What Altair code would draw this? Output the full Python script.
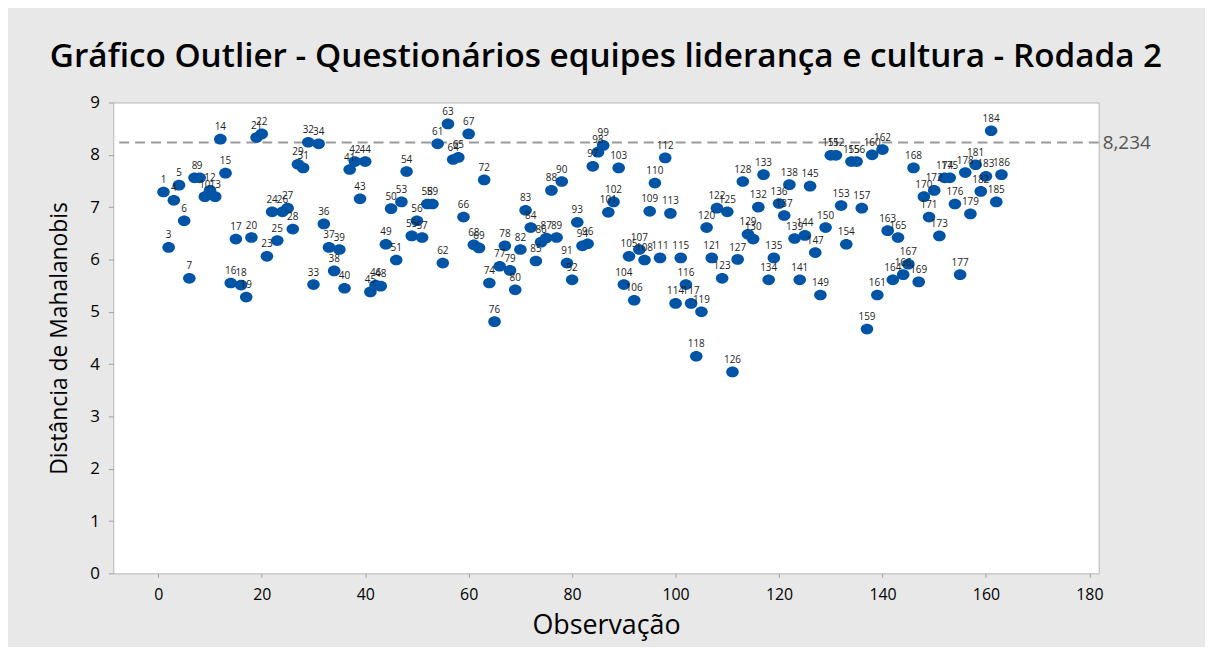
import altair as alt
import pandas as pd

# Respondent labels (IDs) shown next to each point, in observation order
labels = [1, 3, 4, 5, 6, 7, 8, 9, 10, 12, 13, 14, 15, 16, 17, 18, 19, 20, 21, 22,
          23, 24, 25, 26, 27, 28, 29, 31, 32, 33, 34, 36, 37, 38, 39, 40, 41, 42, 43, 44,
          45, 46, 48, 49, 50, 51, 53, 54, 55, 56, 57, 58, 59, 61, 62, 63, 64, 65, 66, 67,
          68, 69, 72, 74, 76, 77, 78, 79, 80, 82, 83, 84, 85, 86, 87, 88, 89, 90, 91, 92,
          93, 94, 96, 97, 98, 99, 101, 102, 103, 104, 105, 106, 107, 108, 109, 110, 111, 112, 113, 114,
          115, 116, 117, 118, 119, 120, 121, 122, 123, 125, 126, 127, 128, 129, 130, 132, 133, 134, 135, 136,
          137, 138, 139, 141, 144, 145, 147, 149, 150, 151, 152, 153, 154, 155, 156, 157, 159, 160, 161, 162,
          163, 164, 165, 166, 167, 168, 169, 170, 171, 172, 173, 174, 175, 176, 177, 178, 179, 181, 182, 183,
          184, 185, 186]

# Mahalanobis distance of each observation
distances = [7.29, 6.23, 7.13, 7.42, 6.74, 5.64, 7.56, 7.56, 7.20, 7.32, 7.20, 8.30, 7.65, 5.55, 6.39, 5.51, 5.28, 6.42, 8.33, 8.40,
             6.06, 6.91, 6.36, 6.91, 6.98, 6.58, 7.82, 7.75, 8.24, 5.52, 8.21, 6.68, 6.23, 5.78, 6.19, 5.45, 7.72, 7.87, 7.16, 7.87,
             5.38, 5.51, 5.49, 6.29, 6.97, 5.99, 7.10, 7.68, 6.45, 6.74, 6.42, 7.06, 7.06, 8.21, 5.93, 8.59, 7.91, 7.95, 6.81, 8.40,
             6.28, 6.22, 7.52, 5.55, 4.81, 5.87, 6.26, 5.79, 5.42, 6.19, 6.94, 6.61, 5.97, 6.33, 6.41, 7.32, 6.42, 7.49, 5.93, 5.61,
             6.71, 6.26, 6.30, 7.78, 8.05, 8.18, 6.90, 7.10, 7.75, 5.52, 6.06, 5.22, 6.19, 5.99, 6.92, 7.46, 6.03, 7.94, 6.88, 5.16,
             6.03, 5.52, 5.16, 4.15, 5.00, 6.61, 6.03, 6.98, 5.64, 6.91, 3.85, 6.00, 7.49, 6.48, 6.39, 7.00, 7.62, 5.61, 6.03, 7.07,
             6.84, 7.43, 6.40, 5.61, 6.46, 7.40, 6.13, 5.32, 6.61, 7.99, 7.99, 7.03, 6.29, 7.87, 7.87, 6.98, 4.67, 8.00, 5.32, 8.10,
             6.55, 5.61, 6.42, 5.71, 5.91, 7.75, 5.57, 7.20, 6.81, 7.32, 6.45, 7.56, 7.56, 7.06, 5.71, 7.66, 6.87, 7.81, 7.30, 7.59,
             8.46, 7.10, 7.62]

observations = list(range(1, len(labels) + 1))

limit_value = [8.234]
limit_text = ["8,234"]

x_ticks = [0, 20, 40, 60, 80, 100, 120, 140, 160, 180]
y_ticks = [0, 1, 2, 3, 4, 5, 6, 7, 8, 9]

title_text = "Gráfico Outlier - Questionários equipes liderança e cultura - Rodada 2"

df = pd.DataFrame({"obs": observations, "dist": distances, "label": [str(v) for v in labels]})
lim = pd.DataFrame({"y": limit_value, "t": limit_text})

W, H = 992, 474
FONT = "Open Sans"

xscale = alt.Scale(domain=[-8.7, 181.8], nice=False, zero=False)
yscale = alt.Scale(domain=[0, 9], nice=False)

ellipse = "M-1,0A1,0.85,0,1,1,1,0A1,0.85,0,1,1,-1,0Z"

x_enc = alt.X("obs:Q", scale=xscale,
              axis=alt.Axis(values=x_ticks, title="Observação", labelFontSize=16,
                            titleFontSize=27, tickSize=4, labelPadding=9, titlePadding=11))
y_enc = alt.Y("dist:Q", scale=yscale,
              axis=alt.Axis(values=y_ticks, title="Distância de Mahalanobis", labelFontSize=17,
                            titleFontSize=23, tickSize=5, labelPadding=9, titlePadding=18))

points = alt.Chart(df).mark_point(shape=ellipse, filled=True, size=160, color="#0054a6",
                                  opacity=1).encode(x=x_enc, y=y_enc)

texts = alt.Chart(df).mark_text(dy=-12, fontSize=10, font=FONT, color="#222222").encode(
    x="obs:Q", y="dist:Q", text="label:N")

rule = alt.Chart(lim).mark_rule(strokeDash=[10, 6], color="#9a9a9a", strokeWidth=2).encode(
    y=alt.Y("y:Q", scale=yscale))

rule_text = alt.Chart(lim).mark_text(align="left", baseline="middle", fontSize=19, font=FONT,
                                     color="#555555").encode(
    y=alt.Y("y:Q", scale=yscale), x=alt.value(W + 4), text="t:N")

chart = alt.layer(rule, points, texts, rule_text).properties(
    width=W, height=H,
    autosize=alt.AutoSizeParams(type="none"),
    padding={"left": 106, "top": 93, "right": 107, "bottom": 72},
    background="#e8e8e8",
    title=alt.Title(title_text, fontSize=33.5, font=FONT, fontWeight=600, color="black",
                    offset=19, anchor="middle"),
).configure_view(fill="white", stroke="#b4b4b4", strokeWidth=1).configure_axis(
    grid=False, domain=False, tickColor="#a0a0a0", labelColor="black", titleColor="black",
    labelFont=FONT, titleFont=FONT, titleFontWeight="normal")

chart.save("out.html", embed_options={"renderer": "svg", "actions": False})
